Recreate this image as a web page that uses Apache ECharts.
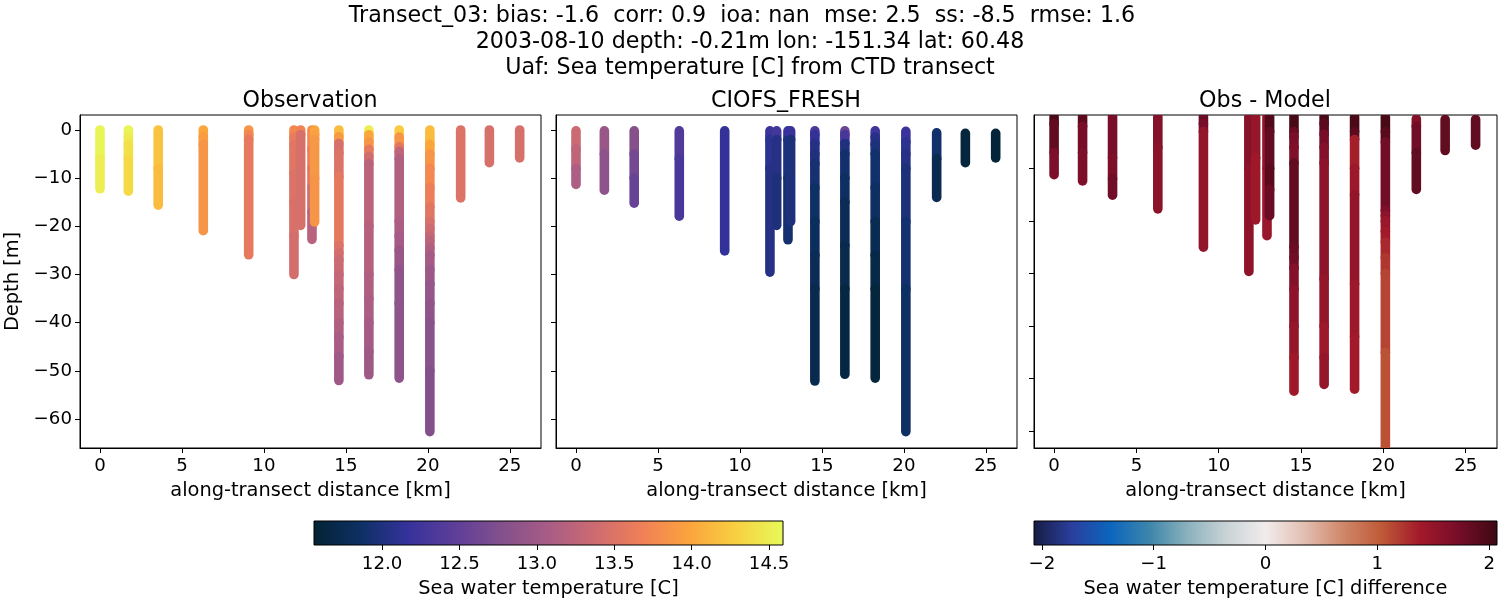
<!DOCTYPE html>
<html>
<head>
<meta charset="utf-8">
<title>Transect_03</title>
<script src="https://cdn.jsdelivr.net/npm/echarts@6/dist/echarts.min.js"></script>
<style>
  html, body { margin: 0; padding: 0; background: #fff; }
  #chart { width: 1500px; height: 600px; }
</style>
</head>
<body>
<div id="chart"></div>
<script>
// along-transect position of each cast [km]
const castDistances = [0, 1.73, 3.55, 6.3, 9.07, 11.83, 12.24, 12.93, 13.09, 14.57, 16.4, 18.25, 20.12, 22, 23.75, 25.6];

// Observation: band edges [m] and the temperature of each band [C]
const obsDepths = [
  [0, -6, -12.2],
  [0, -1.5, -3, -6, -12.7],
  [0, -8, -15.6],
  [0, -1.5, -3, -20.9],
  [0, -1, -2, -25.9],
  [0, -1.5, -3, -9, -15, -22, -30],
  [0, -1, -19.8],
  [0, -4, -8, -12, -17, -22.7],
  [0, -1, -2, -10, -19.1],
  [0, -1.4, -2.8, -4.8, -9.7, -24, -25.5, -27, -30, -33, -36, -40, -43, -47, -52],
  [0, -1, -2.5, -4, -5.5, -7, -20, -30, -35, -40, -46, -50.8],
  [0, -1.5, -3.5, -4.5, -6, -19, -22, -25, -29, -36, -51.5],
  [0, -3, -5, -8, -12, -16, -19, -20.5, -22, -23, -24.5, -26, -29, -32, -36, -40, -50, -62.6],
  [0, -14.1],
  [0, -6.8],
  [0, -5.8]
];
const obsTemps = [
  [14.55, 14.5],
  [14.55, 14.48, 14.4, 14.36],
  [14.2, 14.15],
  [14.0, 13.92, 13.85],
  [13.85, 13.72, 13.6],
  [13.75, 13.62, 13.55, 13.5, 13.47, 13.42],
  [13.7, 13.45],
  [13.75, 13.65, 13.55, 13.4, 13.2],
  [14.0, 13.95, 13.88, 13.85],
  [14.15, 13.9, 13.45, 13.5, 13.58, 13.5, 13.42, 13.35, 13.3, 13.25, 13.2, 13.14, 13.08, 13.0],
  [14.5, 14.0, 13.85, 13.6, 13.4, 13.22, 13.18, 13.14, 13.1, 13.05, 13.0],
  [14.25, 13.85, 13.55, 13.25, 13.15, 13.1, 13.05, 12.95, 12.88, 12.85],
  [14.15, 14.0, 13.85, 13.75, 13.65, 13.55, 13.45, 13.38, 13.3, 13.22, 13.14, 13.05, 12.98, 12.92, 12.88, 12.82, 12.78],
  [13.5],
  [13.45],
  [13.45]
];

// CIOFS_FRESH: same layout as the observation arrays
const modelDepths = [
  [-0.2, -4, -8, -11.3],
  [-0.2, -5, -12.5],
  [-0.2, -5, -10, -15.2],
  [-0.2, -6, -17.9],
  [-0.2, -25.1],
  [-0.2, -2, -8, -29.5],
  [-0.2, -2, -10, -19.8],
  [-0.2, -2, -10, -22.8],
  [-0.2, -2, -19],
  [-0.2, -1, -2.8, -5, -7, -12, -19, -26, -33, -52.1],
  [-0.2, -1, -2.8, -5, -10, -15, -24, -33, -50.7],
  [-0.2, -1.5, -3, -5, -12, -19, -26, -33, -51.5],
  [-0.3, -2.5, -5, -8, -19, -33, -62.6],
  [-0.6, -6, -14],
  [-0.7, -6.8],
  [-0.7, -5.8]
];
const modelTemps = [
  [13.35, 13.25, 13.12],
  [12.95, 12.85],
  [12.8, 12.65, 12.55],
  [12.38, 12.32],
  [12.15],
  [12.22, 12.1, 12.05],
  [12.28, 12.05, 11.98],
  [12.18, 11.98, 11.92],
  [12.18, 11.98],
  [12.35, 12.15, 12.05, 12.0, 11.93, 11.87, 11.82, 11.78, 11.72],
  [12.6, 12.3, 12.0, 11.9, 11.85, 11.78, 11.72, 11.65],
  [12.25, 12.05, 11.98, 11.9, 11.85, 11.76, 11.68, 11.62],
  [12.2, 12.1, 12.05, 11.98, 11.92, 11.85],
  [11.9, 11.75],
  [11.62],
  [11.6]
];

// Obs - Model: band edges [m] and the difference of each band [C]
const diffDepths = [
  [-0.2, -1.5, -7, -11.2],
  [-0.2, -2, -7, -12.4],
  [-0.2, -8, -12, -15.1],
  [-0.2, -6, -17.7],
  [-0.2, -1.5, -3, -25],
  [-0.2, -10, -29.6],
  [-0.2, -8, -19.8],
  [-0.2, -10, -22.8],
  [-0.2, -3, -10, -14, -19],
  [-0.2, -3, -4, -6, -9, -25, -27, -29, -33, -40, -46, -52.4],
  [-0.2, -1.5, -3.5, -6, -9, -31, -40, -46, -51.1],
  [-0.3, -3, -4.5, -10, -15, -32, -42, -52],
  [-0.3, -3, -5, -18, -19, -20, -22, -24, -27, -30, -45, -66],
  [-0.6, -2, -7, -14],
  [-0.7, -6.6],
  [-0.7, -5.6]
];
const diffTemps = [
  [1.98, 1.85, 1.68],
  [1.88, 1.72, 1.68],
  [1.7, 1.66, 1.75],
  [1.62, 1.56],
  [1.8, 1.72, 1.5],
  [1.6, 1.55],
  [1.48, 1.4],
  [1.5, 1.45],
  [1.95, 1.85, 1.9, 1.8],
  [2.0, 1.8, 1.7, 1.65, 1.85, 1.8, 1.75, 1.62, 1.55, 1.48, 1.4],
  [2.0, 1.88, 1.72, 1.62, 1.55, 1.5, 1.42, 1.48],
  [1.98, 1.88, 1.35, 1.42, 1.5, 1.42, 1.38],
  [2.0, 1.9, 1.75, 1.65, 1.55, 1.45, 1.38, 1.3, 1.22, 1.15, 1.08],
  [1.62, 1.75, 1.85],
  [1.85],
  [1.85]
];

// ticks
const distanceTicks = [0, 5, 10, 15, 20, 25];
const depthTicks = [0, -10, -20, -30, -40, -50, -60];
const diffDepthTicks = [-10, -20, -30, -40, -50, -60];
const tempBarTicks = [12, 12.5, 13, 13.5, 14, 14.5];
const diffBarTicks = [-2, -1, 0, 1, 2];

// cmocean thermal / balance
const thermalColors = ['#032333', '#0d3064', '#35329b', '#5d3e99', '#83508c', '#a85c85', '#ce6b71', '#f08057', '#fba43d', '#f8d041', '#e7fa5a'];
const balanceColors = ['#181c43', '#2a3f9e', '#0c66bd', '#3d85aa', '#8cb2bd', '#c9d3d6', '#f1ecec', '#e2bfb2', '#d0876a', '#bf5a38', '#a2192a', '#760d29', '#3c0912'];

const tempMin = 11.56, tempMax = 14.59;
const diffMin = -2.07, diffMax = 2.07;

const FONT = 'DejaVu Sans';
const TICK_SIZE = 18.2;
const LABEL_SIZE = 19.4;
const TITLE_SIZE = 22.2;

function gradient(colors) {
    return new echarts.graphic.LinearGradient(0, 0, 1, 0,
        colors.map((c, i) => ({ offset: i / (colors.length - 1), color: c })));
}

// one row per band: distance, top, bottom, value
function buildBands(depths, values) {
    const rows = [];
    castDistances.forEach((dist, c) => {
        values[c].forEach((v, i) => {
            rows.push([dist, depths[c][i], depths[c][i + 1], v]);
        });
    });
    return rows;
}

function renderBand(params, api) {
    const a = api.coord([api.value(0), api.value(1)]);
    const b = api.coord([api.value(0), api.value(2)]);
    return {
        type: 'line',
        shape: { x1: a[0], y1: a[1], x2: b[0], y2: b[1] },
        style: { stroke: api.visual('color'), lineWidth: 9.6, lineCap: 'round', fill: null }
    };
}

function bandSeries(i, rows) {
    return {
        type: 'custom',
        xAxisIndex: i,
        yAxisIndex: i,
        clip: true,
        renderItem: renderBand,
        encode: { x: 0, y: [1, 2] },
        silent: true,
        animation: false,
        data: rows
    };
}

function minus(v) {
    return String(v).replace('-', '\u2212');
}

function titleAt(text, x, y) {
    return {
        text: text, left: x, top: y, padding: 0, textAlign: 'center', textVerticalAlign: 'middle',
        textStyle: { fontFamily: FONT, fontSize: TITLE_SIZE, fontWeight: 'normal', color: '#000' }
    };
}

function mainXAxis(gridIndex) {
    return {
        type: 'value', gridIndex: gridIndex, min: -1.22, max: 26.9,
        name: 'along-transect distance [km]', nameLocation: 'middle', nameGap: 33,
        nameTextStyle: { fontFamily: FONT, fontSize: LABEL_SIZE, color: '#000' },
        axisLine: { show: true, onZero: false, lineStyle: { color: '#000', width: 1 } },
        axisTick: { show: true, length: 5, lineStyle: { color: '#000' }, customValues: distanceTicks },
        axisLabel: { fontFamily: FONT, fontSize: TICK_SIZE, color: '#000', margin: 9, customValues: distanceTicks },
        splitLine: { show: false }
    };
}

function mainYAxis(gridIndex, min, max, ticks, labelled) {
    return {
        type: 'value', gridIndex: gridIndex, min: min, max: max,
        name: labelled ? 'Depth [m]' : '', nameLocation: 'middle', nameGap: 58,
        nameTextStyle: { fontFamily: FONT, fontSize: LABEL_SIZE, color: '#000' },
        axisLine: { show: true, onZero: false, lineStyle: { color: '#000', width: 1 } },
        axisTick: { show: true, length: 5, lineStyle: { color: '#000' }, customValues: ticks },
        axisLabel: { show: labelled, fontFamily: FONT, fontSize: TICK_SIZE, color: '#000', margin: 8,
            customValues: ticks, formatter: minus },
        splitLine: { show: false }
    };
}

function barXAxis(gridIndex, min, max, ticks, name, formatter) {
    return {
        type: 'value', gridIndex: gridIndex, min: min, max: max,
        name: name, nameLocation: 'middle', nameGap: 34,
        nameTextStyle: { fontFamily: FONT, fontSize: LABEL_SIZE, color: '#000' },
        axisLine: { show: false, onZero: false },
        axisTick: { show: true, length: 5, lineStyle: { color: '#000' }, customValues: ticks },
        axisLabel: { fontFamily: FONT, fontSize: TICK_SIZE, color: '#000', margin: 10, customValues: ticks, formatter: formatter },
        splitLine: { show: false }
    };
}

const chart = echarts.init(document.getElementById('chart'));

const frame = { show: true, borderColor: '#000', borderWidth: 1 };

const option = {
    animation: false,
    backgroundColor: '#fff',
    title: [
        titleAt('Transect_03: bias: -1.6  corr: 0.9  ioa: nan  mse: 2.5  ss: -8.5  rmse: 1.6', 742, 16),
        titleAt('2003-08-10 depth: -0.21m lon: -151.34 lat: 60.48', 750, 42),
        titleAt('Uaf: Sea temperature [C] from CTD transect', 750, 68),
        titleAt('Observation', 310, 101),
        titleAt('CIOFS_FRESH', 786, 101),
        titleAt('Obs - Model', 1265, 101)
    ],
    grid: [
        Object.assign({ left: 80, top: 115, width: 461, height: 333 }, frame),
        Object.assign({ left: 556, top: 115, width: 461, height: 333 }, frame),
        Object.assign({ left: 1034, top: 115, width: 463, height: 333 }, frame),
        Object.assign({ left: 314, top: 521, width: 469, height: 24, backgroundColor: gradient(thermalColors) }, frame),
        Object.assign({ left: 1034, top: 521, width: 463, height: 24, backgroundColor: gradient(balanceColors) }, frame)
    ],
    xAxis: [
        mainXAxis(0),
        mainXAxis(1),
        mainXAxis(2),
        barXAxis(3, tempMin, tempMax, tempBarTicks, 'Sea water temperature [C]', v => v.toFixed(1)),
        barXAxis(4, diffMin, diffMax, diffBarTicks, 'Sea water temperature [C] difference', minus)
    ],
    yAxis: [
        mainYAxis(0, -66, 3.1, depthTicks, true),
        mainYAxis(1, -66, 3.1, depthTicks, false),
        mainYAxis(2, -63.2, 0.15, diffDepthTicks, false),
        { type: 'value', gridIndex: 3, show: false },
        { type: 'value', gridIndex: 4, show: false }
    ],
    visualMap: [
        { type: 'continuous', show: false, seriesIndex: [0, 1], dimension: 3, min: tempMin, max: tempMax, inRange: { color: thermalColors } },
        { type: 'continuous', show: false, seriesIndex: [2], dimension: 3, min: diffMin, max: diffMax, inRange: { color: balanceColors } }
    ],
    series: [
        bandSeries(0, buildBands(obsDepths, obsTemps)),
        bandSeries(1, buildBands(modelDepths, modelTemps)),
        bandSeries(2, buildBands(diffDepths, diffTemps))
    ]
};

chart.setOption(option);
</script>
</body>
</html>
